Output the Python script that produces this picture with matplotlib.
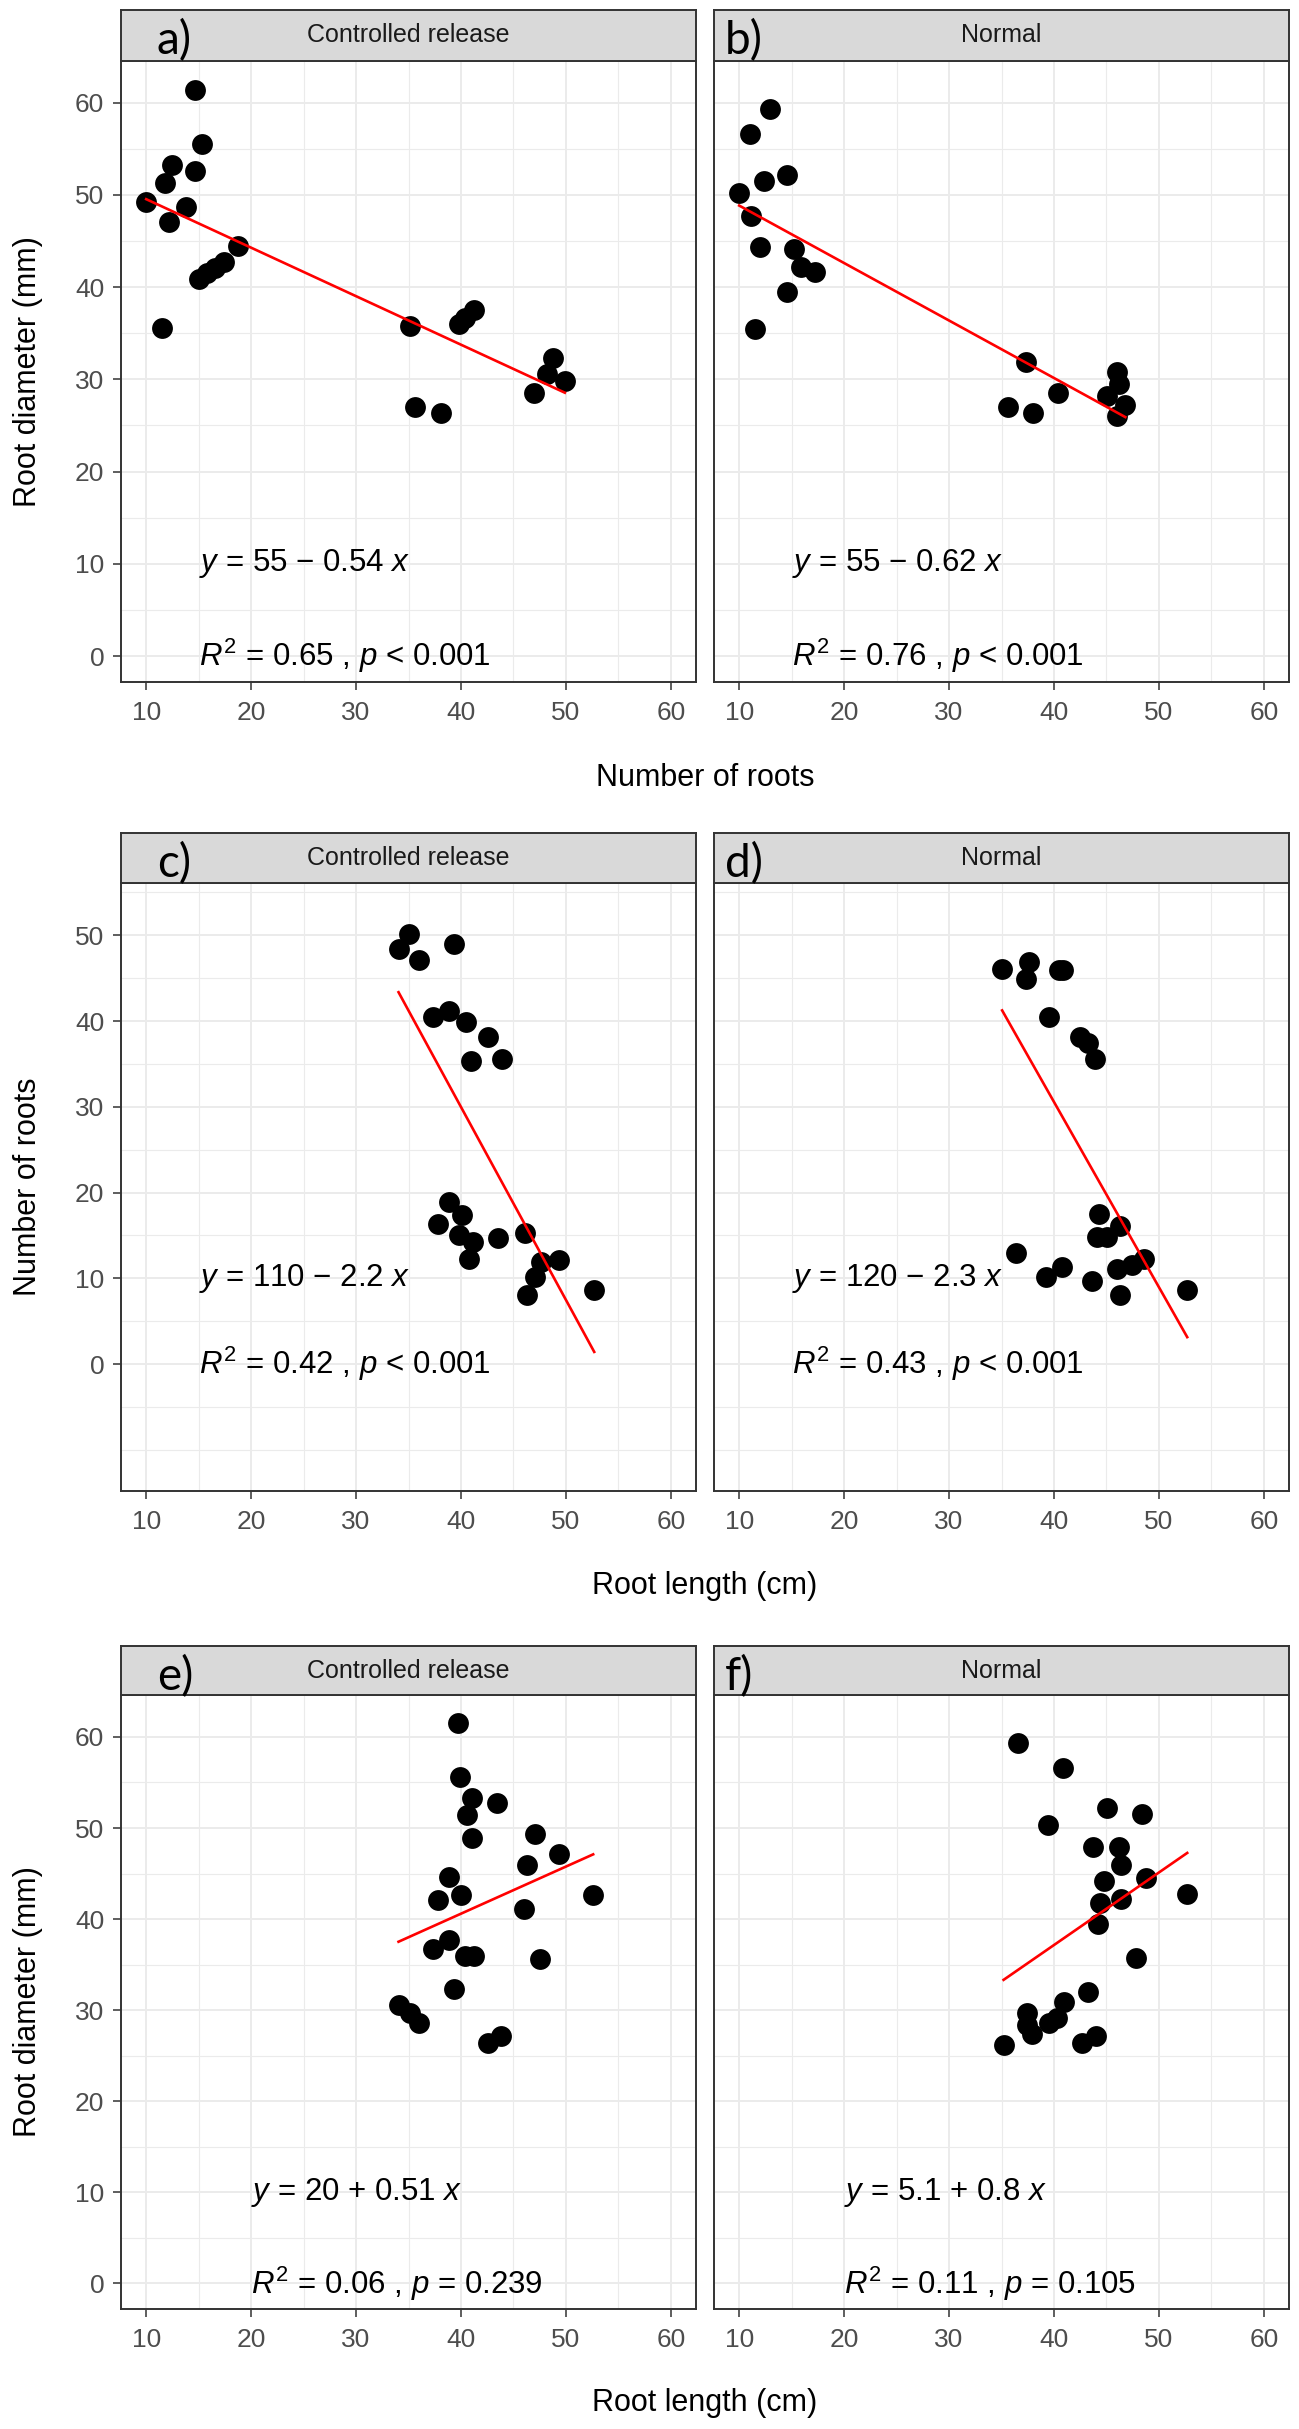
import numpy as np
import matplotlib.pyplot as plt
import matplotlib as mpl
from matplotlib.ticker import MultipleLocator

mpl.rcParams['font.family'] = 'Liberation Sans'
mpl.rcParams['mathtext.fontset'] = 'custom'
mpl.rcParams['mathtext.rm'] = 'Liberation Sans'
mpl.rcParams['mathtext.it'] = 'Liberation Sans:italic'

# a) controlled release: number of roots vs root diameter
a_x = [10.0, 11.55, 11.75, 12.45, 12.2, 13.75, 14.67, 14.67, 15.3, 15.05, 15.8, 16.6, 17.4,
       18.76, 35.14, 35.6, 38.07, 39.8, 40.4, 41.2, 47.0, 48.8, 48.2, 49.9]
a_y = [49.2, 35.6, 51.3, 53.2, 47.0, 48.7, 61.4, 52.6, 55.5, 40.9, 41.5, 42.1, 42.7,
       44.5, 35.8, 27.0, 26.3, 36.0, 36.7, 37.5, 28.55, 32.3, 30.6, 29.8]

# b) normal: number of roots vs root diameter
b_x = [10.0, 11.1, 11.0, 12.9, 12.4, 14.6, 12.0, 11.5, 15.2, 15.85, 17.2, 14.6,
       37.3, 35.6, 38.0, 40.4, 46.0, 46.2, 45.1, 46.8, 46.0]
b_y = [50.2, 47.7, 56.6, 59.3, 51.5, 52.1, 44.3, 35.5, 44.1, 42.2, 41.65, 39.5,
       31.9, 27.05, 26.3, 28.5, 30.8, 29.5, 28.2, 27.2, 26.0]

# c) controlled release: root length vs number of roots
c_x = [35.06, 34.05, 36.0, 39.35, 37.3, 38.9, 40.5, 42.6, 41.0, 43.9,
       38.9, 40.1, 37.8, 39.8, 41.1, 40.8, 43.5, 46.1, 47.6, 49.35, 47.1, 46.3, 52.7]
c_y = [50.2, 48.4, 47.1, 48.95, 40.5, 41.2, 39.9, 38.1, 35.3, 35.6,
       18.9, 17.4, 16.3, 15.0, 14.2, 12.3, 14.7, 15.25, 11.9, 12.1, 10.1, 8.1, 8.6]

# d) normal: root length vs number of roots
d_x = [35.06, 37.6, 37.3, 40.5, 40.9, 39.5, 42.5, 43.2, 43.9,
       44.3, 46.3, 44.1, 45.1, 36.4, 39.25, 40.8, 43.6, 46.0, 47.4, 48.6, 46.3, 52.7]
d_y = [46.1, 46.9, 44.9, 45.9, 45.9, 40.5, 38.1, 37.4, 35.6,
       17.5, 16.1, 14.8, 14.8, 13.0, 10.2, 11.3, 9.7, 11.1, 11.5, 12.3, 8.0, 8.6]

# e) controlled release: root length vs root diameter
e_x = [39.7, 39.95, 41.05, 40.6, 43.45, 41.05, 47.1, 49.35, 46.3, 38.85, 37.8, 40.0, 46.0,
       52.6, 37.3, 38.85, 40.4, 41.2, 47.55, 39.3, 34.05, 35.16, 36.0, 42.6, 43.8]
e_y = [61.5, 55.6, 53.3, 51.4, 52.7, 48.9, 49.3, 47.1, 45.9, 44.6, 42.1, 42.7, 41.1,
       42.7, 36.7, 37.7, 35.9, 35.9, 35.6, 32.3, 30.6, 29.7, 28.6, 26.4, 27.2]

# f) normal: root length vs root diameter
f_x = [36.6, 40.9, 45.1, 48.4, 39.4, 43.7, 46.2, 46.4, 44.8, 48.8, 44.4, 46.4, 52.7,
       44.2, 47.8, 43.25, 41.0, 37.4, 37.4, 37.9, 39.5, 40.3, 35.2, 42.7, 44.0]
f_y = [59.3, 56.6, 52.2, 51.5, 50.3, 47.9, 47.9, 45.9, 44.2, 44.5, 41.8, 42.2, 42.8,
       39.5, 35.7, 32.0, 30.85, 29.7, 28.4, 27.35, 28.6, 29.1, 26.2, 26.4, 27.2]

panel_x = [a_x, b_x, c_x, d_x, e_x, f_x]
panel_y = [a_y, b_y, c_y, d_y, e_y, f_y]
panel_letters = ['a)', 'b)', 'c)', 'd)', 'e)', 'f)']
strip_titles = ['Controlled release', 'Normal']
eq_labels = ['55 \u2212 0.54', '55 \u2212 0.62', '110 \u2212 2.2',
             '120 \u2212 2.3', '20 + 0.51', '5.1 + 0.8']
r2_labels = ['0.65 , $\\mathit{p}$ < 0.001', '0.76 , $\\mathit{p}$ < 0.001',
             '0.42 , $\\mathit{p}$ < 0.001', '0.43 , $\\mathit{p}$ < 0.001',
             '0.06 , $\\mathit{p}$ = 0.239', '0.11 , $\\mathit{p}$ = 0.105']
x_titles = ['Number of roots', 'Root length (cm)', 'Root length (cm)']
y_titles = ['Root diameter (mm)', 'Number of roots', 'Root diameter (mm)']
y_ticks = [[0, 10, 20, 30, 40, 50, 60], [0, 10, 20, 30, 40, 50], [0, 10, 20, 30, 40, 50, 60]]
x_ticks = [10, 20, 30, 40, 50, 60]

# layout in pixels (top-based)
W, H = 1299, 2429
cols = [(121, 696), (714, 1289)]
rows = [  # strip top, plot top, plot bottom, ylim, label x, x-title y
    dict(strip=10, top=61, bottom=682, ylim=(-2.8, 64.5), lx=15, xt=778),
    dict(strip=833, top=883, bottom=1491, ylim=(-14.8, 56.1), lx=15, xt=1586),
    dict(strip=1646, top=1695, bottom=2309, ylim=(-2.8, 64.6), lx=20, xt=2403),
]
letter_dx = [36, 11]

BORDER = '#333333'
GRID = '#EBEBEB'


def box(left, top, right, bottom):
    return [left / W, 1 - bottom / H, (right - left) / W, (bottom - top) / H]


fig = plt.figure(figsize=(W / 100, H / 100), dpi=100)

for r, row in enumerate(rows):
    for c, (left, right) in enumerate(cols):
        k = r * 2 + c
        ax = fig.add_axes(box(left, row['top'], right, row['bottom']))
        ax.set_xlim(7.6, 62.4)
        ax.set_ylim(*row['ylim'])
        ax.set_xticks(x_ticks)
        ax.set_yticks(y_ticks[r])
        ax.xaxis.set_minor_locator(MultipleLocator(5))
        ax.yaxis.set_minor_locator(MultipleLocator(5))
        ax.grid(True, which='major', color=GRID, lw=1.4, zorder=0)
        ax.grid(True, which='minor', color=GRID, lw=0.8, zorder=0)
        ax.set_axisbelow(True)
        for s in ax.spines.values():
            s.set_color(BORDER)
            s.set_linewidth(1.4)
        ax.tick_params(which='major', length=6, width=1.1, color=BORDER,
                       labelsize=19, labelcolor='#4D4D4D', pad=6)
        ax.tick_params(axis='x', pad=8)
        ax.tick_params(which='minor', length=0)
        if c == 1:
            ax.tick_params(axis='y', labelleft=False, length=0)

        x = np.array(panel_x[k])
        y = np.array(panel_y[k])
        ax.scatter(x, y, s=225, c='black', linewidths=0, zorder=3)
        coef = np.polyfit(x, y, 1)
        xs = np.array([x.min(), x.max()])
        ax.plot(xs, np.polyval(coef, xs), color='red', lw=1.9, zorder=4)

        ax.text(row['lx'], 10, '$\\mathit{y}$ = ' + eq_labels[k] + ' $\\mathit{x}$',
                fontsize=22.5, ha='left', va='center', color='black')
        ax.text(row['lx'], 0, '$\\mathit{R}^2$ = ' + r2_labels[k],
                fontsize=22.5, ha='left', va='center', color='black')

        # facet strip
        sax = fig.add_axes(box(left, row['strip'], right, row['top']))
        sax.set_facecolor('#D9D9D9')
        sax.set_xticks([])
        sax.set_yticks([])
        for s in sax.spines.values():
            s.set_color(BORDER)
            s.set_linewidth(1.4)
        sax.text(0.5, 0.5, strip_titles[c], transform=sax.transAxes,
                 ha='center', va='center', fontsize=18, color='#1A1A1A')

        fig.text((left + letter_dx[c]) / W, 1 - (row['strip'] + 44) / H,
                 panel_letters[k], fontsize=33, family='Lato',
                 ha='left', va='baseline', color='black')

    fig.text(705 / W, 1 - row['xt'] / H, x_titles[r], fontsize=22,
             ha='center', va='center')
    fig.text(28 / W, 1 - (row['top'] + row['bottom']) / 2 / H, y_titles[r],
             fontsize=22, ha='center', va='center', rotation=90)

fig.savefig('out.png', dpi=100, facecolor='white')
